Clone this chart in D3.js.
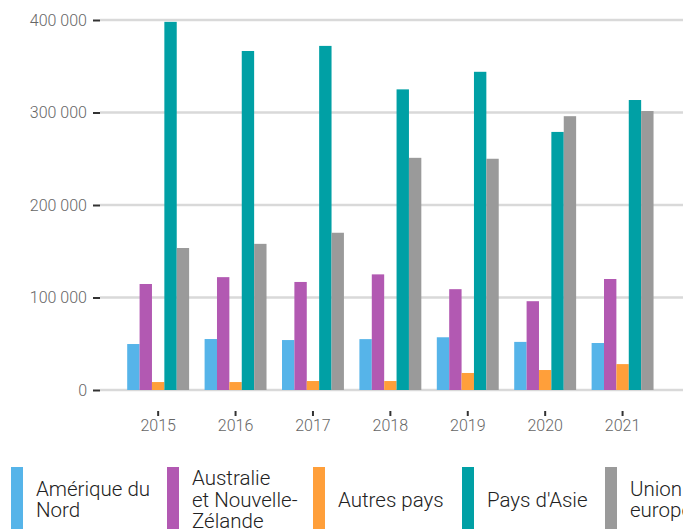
<!DOCTYPE html>
<html>
<head>
    <meta charset="utf-8">
    <title>Grouped Bar Chart</title>
    <script src="https://d3js.org/d3.v7.min.js"></script>
    <style>
        body { margin: 0; background: #fff; font-family: Roboto, "Noto Sans", sans-serif; overflow: hidden; }
    </style>
</head>
<body>
    <div id="chart"></div>

    <script>
        // Data for the chart
        var years = ["2015", "2016", "2017", "2018", "2019", "2020", "2021"];
        var series = ["Amérique du Nord", "Australie et Nouvelle-Zélande", "Autres pays", "Pays d'Asie", "Union européenne"];
        var ameriqueNord = [49700, 55100, 54000, 55000, 57000, 52000, 50800];
        var australie = [114600, 122000, 116800, 125000, 109000, 96000, 120000];
        var autresPays = [8600, 8600, 9700, 9700, 18400, 21600, 28000];
        var paysAsie = [398000, 366500, 372000, 325000, 344000, 279000, 313500];
        var unionEuropeenne = [153500, 158000, 170000, 251000, 250000, 296000, 301600];
        var yTicks = [0, 100000, 200000, 300000, 400000];

        // Legend labels as lines
        var legendLines = [["Amérique du", "Nord"], ["Australie", "et Nouvelle-", "Zélande"], ["Autres pays"], ["Pays d'Asie"], ["Union", "européenne"]];
        var colors = ["#56b4e9", "#b259b2", "#ff9f3a", "#00a0a5", "#9a9a9a"];

        var values = [ameriqueNord, australie, autresPays, paysAsie, unionEuropeenne];

        var width = 683, height = 529;

        var svg = d3.select("#chart")
            .append("svg")
            .attr("width", width)
            .attr("height", height)
            .style("display", "block");

        // Scales
        var x = d3.scaleBand()
            .domain(years)
            .range([100, 683])
            .paddingInner(0.2)
            .paddingOuter(0.366)
            .align(0.48);

        var xInner = d3.scaleBand()
            .domain(d3.range(series.length))
            .range([0, x.bandwidth()])
            .padding(0);

        var y = d3.scaleLinear()
            .domain([0, 400000])
            .range([390, 20]);

        var fmt = function(d) { return d3.format(",")(d).replace(/,/g, " "); };

        // Gridlines
        svg.append("g")
            .selectAll("line")
            .data(yTicks)
            .enter()
            .append("line")
            .attr("x1", 100)
            .attr("x2", width)
            .attr("y1", function(d) { return y(d); })
            .attr("y2", function(d) { return y(d); })
            .attr("stroke", "#d9d9d9")
            .attr("stroke-width", 2.6);

        // Y axis
        var yAxis = svg.append("g")
            .attr("class", "y-axis")
            .attr("transform", "translate(100,0)")
            .call(d3.axisLeft(y).tickValues(yTicks).tickSize(7).tickPadding(6).tickFormat(fmt));
        yAxis.select(".domain").remove();
        yAxis.selectAll(".tick line").attr("stroke", "#333").attr("stroke-width", 2);
        yAxis.selectAll(".tick text")
            .attr("fill", "#666")
            .style("font-family", "Roboto")
            .style("font-weight", 300)
            .style("font-size", "16px");

        // Bars
        var groups = svg.append("g")
            .selectAll("g")
            .data(years)
            .enter()
            .append("g")
            .attr("transform", function(d) { return "translate(" + x(d) + ",0)"; });

        groups.selectAll("rect")
            .data(function(d, i) { return values.map(function(v, s) { return { s: s, value: v[i] }; }); })
            .enter()
            .append("rect")
            .attr("x", function(d) { return xInner(d.s); })
            .attr("width", xInner.bandwidth())
            .attr("y", function(d) { return y(d.value); })
            .attr("height", function(d) { return y(0) - y(d.value); })
            .attr("fill", function(d) { return colors[d.s]; });

        // X axis
        var xAxis = svg.append("g")
            .attr("class", "x-axis")
            .attr("transform", "translate(0,411)")
            .call(d3.axisBottom(x).tickSize(5).tickPadding(4).tickSizeOuter(0));
        xAxis.select(".domain").remove();
        xAxis.selectAll(".tick line").attr("stroke", "#333").attr("stroke-width", 2);
        xAxis.selectAll(".tick text")
            .attr("fill", "#666")
            .style("font-family", "Roboto")
            .style("font-weight", 300)
            .style("font-size", "16px");

        // Legend
        var legendX = [11, 167, 313, 462, 605];
        var legend = svg.append("g")
            .selectAll("g")
            .data(series)
            .enter()
            .append("g")
            .attr("transform", function(d, i) { return "translate(" + legendX[i] + ",467)"; });

        legend.append("rect")
            .attr("width", 12)
            .attr("height", 70)
            .attr("fill", function(d, i) { return colors[i]; });

        legend.append("text")
            .attr("fill", "#222")
            .style("font-family", "Roboto")
            .style("font-weight", 300)
            .style("font-size", "20.5px")
            .each(function(d, i) {
                var lines = legendLines[i];
                var startY = 32 - (lines.length - 1) * 21.5 / 2 + 7.5;
                d3.select(this).selectAll("tspan")
                    .data(lines)
                    .enter()
                    .append("tspan")
                    .attr("x", 25)
                    .attr("y", function(l, j) { return startY + j * 21.5; })
                    .text(function(l) { return l; });
            });
    </script>
</body>
</html>
